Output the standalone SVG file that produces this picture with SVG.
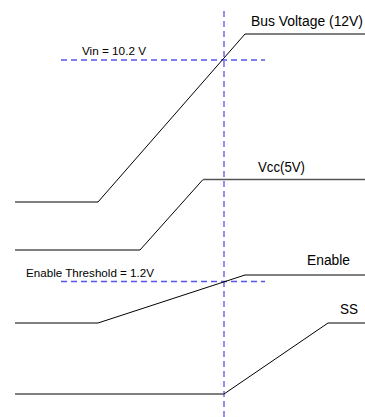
<svg xmlns="http://www.w3.org/2000/svg" width="365" height="417" viewBox="0 0 365 417">
<style>
.lvl{stroke:#555;stroke-width:1.5;fill:none}
.ramp{stroke:#000;stroke-width:1;fill:none}
.dash{stroke:#5555ee;stroke-width:1.3;stroke-dasharray:6 4;fill:none}
.lbl{font-family:"Liberation Sans",Arial,sans-serif;font-size:14px;fill:#000}
.sm{font-family:"Liberation Sans",Arial,sans-serif;font-size:11.8px;fill:#000}
</style>
<rect width="365" height="417" fill="#fff"/>
<g id="connectors">
<line class="dash" x1="224" y1="11" x2="224" y2="417"/>
<line class="dash" x1="61" y1="60" x2="265" y2="60"/>
<line class="dash" x1="61" y1="281.5" x2="265" y2="281.5"/>
</g>
<g id="bus">
<polyline class="lvl" points="15,202 98,202"/>
<polyline class="ramp" points="98,202 245,34"/>
<polyline class="lvl" points="245,34 365,34"/>
<text class="lbl" x="251" y="26" textLength="112" lengthAdjust="spacingAndGlyphs">Bus Voltage (12V)</text>
<text class="sm" x="82" y="55" textLength="64" lengthAdjust="spacingAndGlyphs">Vin = 10.2 V</text>
</g>
<g id="vcc">
<polyline class="lvl" points="15,250 140,250"/>
<polyline class="ramp" points="140,250 203,179.5"/>
<polyline class="lvl" points="203,179.5 365,179.5"/>
<text class="lbl" x="258" y="172" textLength="47" lengthAdjust="spacingAndGlyphs">Vcc(5V)</text>
</g>
<g id="enable">
<polyline class="lvl" points="15,323 98,323"/>
<polyline class="ramp" points="98,323 245,275"/>
<polyline class="lvl" points="245,275 365,275"/>
<text class="lbl" x="307" y="265" textLength="43" lengthAdjust="spacingAndGlyphs">Enable</text>
<text class="sm" x="26" y="277" textLength="128" lengthAdjust="spacingAndGlyphs">Enable Threshold = 1.2V</text>
</g>
<g id="ss">
<polyline class="lvl" points="15,394 224,394"/>
<polyline class="ramp" points="224,394 328,323"/>
<polyline class="lvl" points="328,323 365,323"/>
<text class="lbl" x="340" y="314" textLength="18" lengthAdjust="spacingAndGlyphs">SS</text>
</g>
</svg>
